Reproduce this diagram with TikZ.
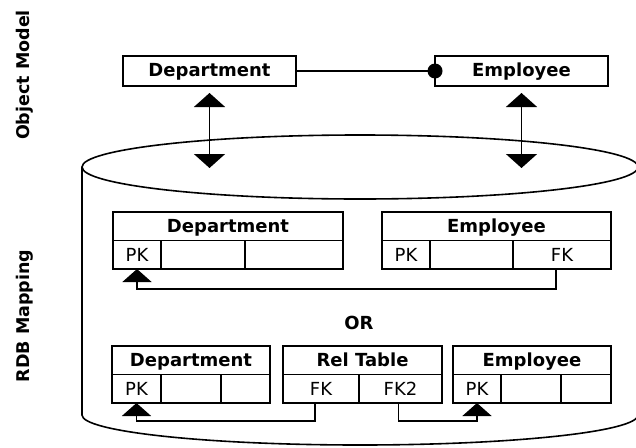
\documentclass[tikz,border=0pt]{standalone}
\usepackage{fontspec}
\setmainfont{DejaVu Sans}
\usetikzlibrary{arrows.meta,positioning,calc}

\begin{document}
\begin{tikzpicture}[x=1pt,y=-1pt,line width=1.6pt,
  cls/.style={draw,outer sep=0pt,inner sep=0pt,minimum height=30pt,text height=14.5pt,text depth=3pt,font=\fontsize{18}{20}\selectfont\bfseries},
  title/.style={draw,outer sep=0pt,inner sep=0pt,minimum height=28.5pt,text height=14.5pt,text depth=3pt,font=\fontsize{18}{20}\selectfont\bfseries},
  cell/.style={draw,outer sep=0pt,inner sep=0pt,minimum height=28.5pt,font=\fontsize{18}{20}\selectfont},
  link/.style={-{Triangle[width=29pt,length=13pt]}},
  maps/.style={{Triangle[width=31pt,length=14pt]}-{Triangle[width=31pt,length=14pt]}}]
\clip (0,0) rectangle (636,447);
%%%%
\node[rotate=90,font=\fontsize{17.5}{20}\selectfont\bfseries] (om) at (25,75) {Object Model};
\node[rotate=90,font=\fontsize{17.5}{20}\selectfont\bfseries] (rdb) at (25,316) {RDB Mapping};
%
\draw (360,167) ellipse [x radius=278pt,y radius=32pt];
\draw (82,167) -- (82,415) arc [start angle=180,end angle=360,x radius=278pt,y radius=30pt] -- (638,167);
%
\node[cls,anchor=north west,minimum width=173pt] (dept) at (123,56) {Department};
\node[cls,anchor=north west,minimum width=173pt] (emp) at (435,56) {Employee};
\draw (dept.east) -- (emp.west);
\fill (emp.west) circle (7.5pt);
%
\coordinate (dlow) at (209.5,168);
\coordinate (elow) at (521.5,168);
\draw[maps] ([yshift=-7pt]dept.south) -- (dlow);
\draw[maps] ([yshift=-7pt]emp.south) -- (elow);
%%%%First mapping
\node[title,anchor=north west,minimum width=230pt] (dt) at (113,212) {Department};
\node[cell,anchor=north west,minimum width=48pt] (dpk) at (dt.south west) {PK};
\node[cell,right=0pt of dpk,minimum width=84pt] (dc2) {};
\node[cell,right=0pt of dc2,minimum width=98pt] (dc3) {};
%
\node[title,anchor=north west,minimum width=229pt] (et) at (382,212) {Employee};
\node[cell,anchor=north west,minimum width=48pt] (epk) at (et.south west) {PK};
\node[cell,right=0pt of epk,minimum width=83pt] (ec2) {};
\node[cell,right=0pt of ec2,minimum width=98pt] (efk) {FK};
\draw[link] ([xshift=-6pt]efk.south) -- ++(0,20) -| (dpk.south);
%
\node[font=\fontsize{18}{20}\selectfont\bfseries] (or) at (359,323) {OR};
%%%%Second mapping
\node[title,anchor=north west,minimum width=158pt] (bt) at (112,346) {Department};
\node[cell,anchor=north west,minimum width=49pt] (bpk) at (bt.south west) {PK};
\node[cell,right=0pt of bpk,minimum width=60pt] (bc2) {};
\node[cell,right=0pt of bc2,minimum width=49pt] (bc3) {};
%
\node[title,anchor=north west,minimum width=159pt] (rt) at (283,346) {Rel Table};
\node[cell,anchor=north west,minimum width=76pt] (rfk) at (rt.south west) {FK};
\node[cell,right=0pt of rfk,minimum width=83pt] (rfk2) {FK2};
%
\node[title,anchor=north west,minimum width=158pt] (ft) at (453,346) {Employee};
\node[cell,anchor=north west,minimum width=48pt] (fpk) at (ft.south west) {PK};
\node[cell,right=0pt of fpk,minimum width=60pt] (fc2) {};
\node[cell,right=0pt of fc2,minimum width=50pt] (fc3) {};
\draw[link] ([xshift=-6pt]rfk.south) -- ++(0,18) -| (bpk.south);
\draw[link] ([xshift=-2pt]rfk2.south) -- ++(0,18) -| (fpk.south);
\end{tikzpicture}
\end{document}
